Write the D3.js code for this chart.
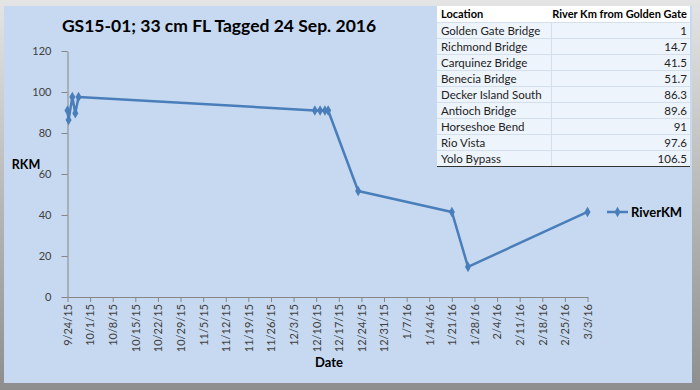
<!DOCTYPE html>
<html>
<head>
<meta charset="utf-8">
<script src="https://cdn.jsdelivr.net/npm/d3@7"></script>
<style>
body { margin: 0; }
svg { display: block; font-family: Lato, "Noto Sans", sans-serif; }
</style>
</head>
<body>
<div id="chart"></div>
<script>
const width = 700, height = 390;

// detections (date, river km)
const dates = ["2015-09-24T00:00", "2015-09-24T08:00", "2015-09-25T12:00", "2015-09-26T10:00", "2015-09-27T10:00",
    "2015-12-09T14:00", "2015-12-11T05:00", "2015-12-12T17:00", "2015-12-13T17:00",
    "2015-12-23T00:00", "2016-01-21T00:00", "2016-01-26T00:00", "2016-03-03T00:00"];
const riverKm = [91, 86.3, 97.6, 89.6, 97.6, 91, 91, 91, 91, 51.7, 41.5, 14.7, 41.5];

const xTickLabels = ["9/24/15", "10/1/15", "10/8/15", "10/15/15", "10/22/15", "10/29/15", "11/5/15", "11/12/15",
    "11/19/15", "11/26/15", "12/3/15", "12/10/15", "12/17/15", "12/24/15", "12/31/15", "1/7/16", "1/14/16",
    "1/21/16", "1/28/16", "2/4/16", "2/11/16", "2/18/16", "2/25/16", "3/3/16"];
const yTicks = [0, 20, 40, 60, 80, 100, 120];

// location lookup table
const locations = ["Golden Gate Bridge", "Richmond Bridge", "Carquinez Bridge", "Benecia Bridge",
    "Decker Island South", "Antioch Bridge", "Horseshoe Bend", "Rio Vista", "Yolo Bypass"];
const locationKm = ["1", "14.7", "41.5", "51.7", "86.3", "89.6", "91", "97.6", "106.5"];

const parseTime = d3.timeParse("%Y-%m-%dT%H:%M");
const parseTick = d3.timeParse("%m/%d/%y");
const data = dates.map((d, i) => ({date: parseTime(d), km: riverKm[i]}));
const tickDates = xTickLabels.map(parseTick);

const svg = d3.select("#chart").append("svg")
    .attr("width", width)
    .attr("height", height);

// frame
const defs = svg.append("defs");
const grad = defs.append("linearGradient").attr("id", "frame").attr("x1", 0).attr("y1", 0).attr("x2", 0).attr("y2", 1);
grad.append("stop").attr("offset", "0%").attr("stop-color", "#e4e4e4");
grad.append("stop").attr("offset", "100%").attr("stop-color", "#8e8e8e");
svg.append("rect").attr("width", width).attr("height", height).attr("fill", "url(#frame)");
svg.append("rect").attr("x", 4).attr("y", 6).attr("width", 688).attr("height", 377).attr("fill", "#c6d9f0");

const x = d3.scaleTime()
    .domain([tickDates[0], tickDates[tickDates.length - 1]])
    .range([67.5, 587.5]);

const y = d3.scaleLinear()
    .domain([0, 120])
    .range([297, 51]);

// y axis
const yAxis = svg.append("g")
    .attr("transform", "translate(67.5,0)")
    .call(d3.axisLeft(y).tickValues(yTicks).tickSize(6).tickSizeOuter(0).tickPadding(10));
yAxis.select(".domain").attr("stroke", "#868686");
yAxis.selectAll(".tick line").attr("stroke", "#868686");
yAxis.selectAll("text").attr("font-size", 11).attr("fill", "#404040").attr("font-family", "Lato, sans-serif");

// x axis
const xAxis = svg.append("g")
    .attr("transform", "translate(0,297)")
    .call(d3.axisBottom(x).tickValues(tickDates).tickSize(5).tickSizeOuter(0)
        .tickFormat((d, i) => xTickLabels[i]));
xAxis.select(".domain").attr("stroke", "#868686");
xAxis.selectAll(".tick line").attr("stroke", "#868686");
xAxis.selectAll("text")
    .attr("font-size", 11)
    .attr("fill", "#404040")
    .attr("font-family", "Lato, sans-serif")
    .attr("transform", "rotate(-90)")
    .attr("x", -7)
    .attr("y", 0)
    .attr("dy", "0.35em")
    .style("text-anchor", "end");

// series
const line = d3.line()
    .x(d => x(d.date))
    .y(d => y(d.km));

svg.append("path")
    .datum(data)
    .attr("fill", "none")
    .attr("stroke", "#4a7ebb")
    .attr("stroke-width", 2.5)
    .attr("stroke-linejoin", "round")
    .attr("d", line);

const diamond = d3.symbol().type(d3.symbolDiamond).size(32);
svg.append("g")
    .selectAll("path")
    .data(data)
    .enter().append("path")
    .attr("transform", d => `translate(${x(d.date)},${y(d.km)})`)
    .attr("d", diamond)
    .attr("fill", "#4a7ebb");

// titles
svg.append("text")
    .attr("x", 219).attr("y", 32)
    .attr("text-anchor", "middle")
    .attr("font-size", 17.5).attr("font-weight", "bold").attr("fill", "#000")
    .text("GS15-01; 33 cm FL Tagged 24 Sep. 2016");

svg.append("text")
    .attr("x", 26).attr("y", 165).attr("dy", "0.35em")
    .attr("text-anchor", "middle")
    .attr("font-size", 12.5).attr("font-weight", "bold")
    .text("RKM");

svg.append("text")
    .attr("x", 329).attr("y", 362).attr("dy", "0.35em")
    .attr("text-anchor", "middle")
    .attr("font-size", 13).attr("font-weight", "bold")
    .text("Date");

// legend
const legend = svg.append("g").attr("transform", "translate(607,212)");
legend.append("line").attr("x1", 0).attr("x2", 21).attr("stroke", "#4a7ebb").attr("stroke-width", 2.5);
legend.append("path").attr("transform", "translate(10.5,0)").attr("d", diamond).attr("fill", "#4a7ebb");
legend.append("text").attr("x", 24).attr("dy", "0.35em")
    .attr("font-size", 13).attr("font-weight", "bold").text("RiverKM");

// table
const tx0 = 437, tx1 = 690, tSplit = 551.5, tTop = 6, headH = 16.5, rowH = 16;
const table = svg.append("g");
table.append("rect").attr("x", tx0).attr("y", tTop).attr("width", tx1 - tx0).attr("height", headH)
    .attr("fill", "#ffffff");
table.append("rect").attr("x", tx0).attr("y", tTop + headH).attr("width", tx1 - tx0)
    .attr("height", rowH * locations.length).attr("fill", "#eef4fb");
table.append("text").attr("x", tx0 + 4).attr("y", tTop + headH / 2).attr("dy", "0.35em")
    .attr("font-size", 11).attr("font-weight", "bold").text("Location");
table.append("text").attr("x", tx1 - 3).attr("y", tTop + headH / 2).attr("dy", "0.35em")
    .attr("text-anchor", "end")
    .attr("font-size", 11).attr("font-weight", "bold").text("River Km from Golden Gate");

locations.forEach((loc, i) => {
    const yc = tTop + headH + rowH * i + rowH / 2;
    table.append("line")
        .attr("x1", tx0).attr("x2", tx1)
        .attr("y1", tTop + headH + rowH * i).attr("y2", tTop + headH + rowH * i)
        .attr("stroke", "#d3dfec");
    table.append("text").attr("x", tx0 + 4).attr("y", yc).attr("dy", "0.35em")
        .attr("font-size", 11.5).attr("fill", "#222").text(loc);
    table.append("text").attr("x", tx1 - 3).attr("y", yc).attr("dy", "0.35em")
        .attr("text-anchor", "end")
        .attr("font-size", 11.5).attr("fill", "#222").text(locationKm[i]);
});
table.append("line")
    .attr("x1", tSplit).attr("x2", tSplit)
    .attr("y1", tTop + headH).attr("y2", tTop + headH + rowH * locations.length)
    .attr("stroke", "#d3dfec");
table.append("line")
    .attr("x1", tx0).attr("x2", tx1)
    .attr("y1", tTop + headH + rowH * locations.length).attr("y2", tTop + headH + rowH * locations.length)
    .attr("stroke", "#333").attr("stroke-width", 1.2);
</script>
</body>
</html>
